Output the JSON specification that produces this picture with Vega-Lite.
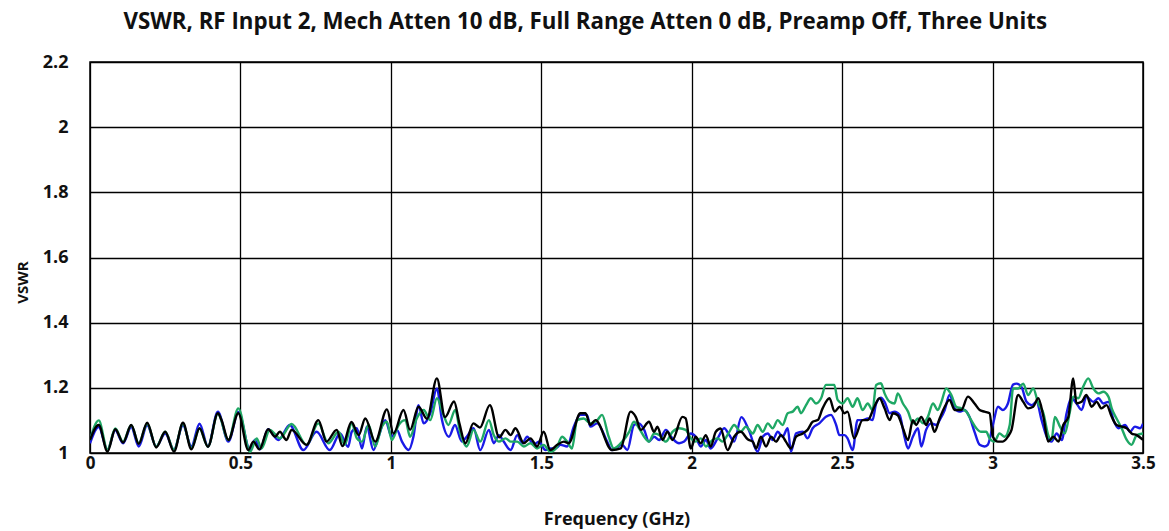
{
"$schema": "https://vega.github.io/schema/vega-lite/v6.json",
"width": 1053, "height": 391,
"autosize": {"type": "none"},
"padding": {"left": 90, "top": 62, "right": 26, "bottom": 78},
"background": "white",
"title": {"text": "VSWR, RF Input 2, Mech Atten 10 dB, Full Range Atten 0 dB, Preamp Off, Three Units", "anchor": "middle", "frame": "bounds", "font": "Open Sans", "fontSize": 22.3, "fontWeight": "bold", "color": "#111", "offset": 20},
"config": {"view": {"stroke": "#000", "strokeWidth": 1.5}},
"datasets": {"d": [
{"u":"Unit 1","f":0.000,"v":1.030},{"u":"Unit 1","f":0.029,"v":1.080},{"u":"Unit 1","f":0.058,"v":1.010},{"u":"Unit 1","f":0.084,"v":1.070},{"u":"Unit 1","f":0.110,"v":1.030},{"u":"Unit 1","f":0.137,"v":1.080},{"u":"Unit 1","f":0.162,"v":1.020},{"u":"Unit 1","f":0.190,"v":1.085},{"u":"Unit 1","f":0.220,"v":1.020},{"u":"Unit 1","f":0.250,"v":1.060},{"u":"Unit 1","f":0.279,"v":1.010},{"u":"Unit 1","f":0.309,"v":1.085},{"u":"Unit 1","f":0.337,"v":1.020},{"u":"Unit 1","f":0.364,"v":1.090},{"u":"Unit 1","f":0.392,"v":1.020},{"u":"Unit 1","f":0.425,"v":1.127},{"u":"Unit 1","f":0.460,"v":1.035},{"u":"Unit 1","f":0.493,"v":1.126},{"u":"Unit 1","f":0.532,"v":1.009},{"u":"Unit 1","f":0.548,"v":1.040},{"u":"Unit 1","f":0.565,"v":1.011},{"u":"Unit 1","f":0.592,"v":1.073},{"u":"Unit 1","f":0.626,"v":1.040},{"u":"Unit 1","f":0.664,"v":1.086},{"u":"Unit 1","f":0.709,"v":1.009},{"u":"Unit 1","f":0.753,"v":1.065},{"u":"Unit 1","f":0.797,"v":1.009},{"u":"Unit 1","f":0.831,"v":1.060},{"u":"Unit 1","f":0.858,"v":1.019},{"u":"Unit 1","f":0.870,"v":1.065},{"u":"Unit 1","f":0.887,"v":1.076},{"u":"Unit 1","f":0.904,"v":1.014},{"u":"Unit 1","f":0.920,"v":1.081},{"u":"Unit 1","f":0.942,"v":1.009},{"u":"Unit 1","f":0.959,"v":1.050},{"u":"Unit 1","f":0.981,"v":1.101},{"u":"Unit 1","f":1.003,"v":1.050},{"u":"Unit 1","f":1.020,"v":1.071},{"u":"Unit 1","f":1.037,"v":1.035},{"u":"Unit 1","f":1.059,"v":1.009},{"u":"Unit 1","f":1.075,"v":1.050},{"u":"Unit 1","f":1.092,"v":1.147},{"u":"Unit 1","f":1.109,"v":1.091},{"u":"Unit 1","f":1.131,"v":1.122},{"u":"Unit 1","f":1.153,"v":1.198},{"u":"Unit 1","f":1.170,"v":1.101},{"u":"Unit 1","f":1.193,"v":1.050},{"u":"Unit 1","f":1.213,"v":1.086},{"u":"Unit 1","f":1.236,"v":1.035},{"u":"Unit 1","f":1.252,"v":1.050},{"u":"Unit 1","f":1.275,"v":1.076},{"u":"Unit 1","f":1.297,"v":1.009},{"u":"Unit 1","f":1.326,"v":1.071},{"u":"Unit 1","f":1.342,"v":1.030},{"u":"Unit 1","f":1.359,"v":1.055},{"u":"Unit 1","f":1.375,"v":1.035},{"u":"Unit 1","f":1.398,"v":1.009},{"u":"Unit 1","f":1.420,"v":1.055},{"u":"Unit 1","f":1.437,"v":1.030},{"u":"Unit 1","f":1.453,"v":1.050},{"u":"Unit 1","f":1.475,"v":1.025},{"u":"Unit 1","f":1.492,"v":1.035},{"u":"Unit 1","f":1.514,"v":1.009},{"u":"Unit 1","f":1.530,"v":1.014},{"u":"Unit 1","f":1.547,"v":1.014},{"u":"Unit 1","f":1.564,"v":1.025},{"u":"Unit 1","f":1.586,"v":1.020},{"u":"Unit 1","f":1.608,"v":1.081},{"u":"Unit 1","f":1.630,"v":1.117},{"u":"Unit 1","f":1.652,"v":1.117},{"u":"Unit 1","f":1.663,"v":1.081},{"u":"Unit 1","f":1.686,"v":1.091},{"u":"Unit 1","f":1.719,"v":1.035},{"u":"Unit 1","f":1.735,"v":1.009},{"u":"Unit 1","f":1.769,"v":1.025},{"u":"Unit 1","f":1.786,"v":1.009},{"u":"Unit 1","f":1.808,"v":1.086},{"u":"Unit 1","f":1.825,"v":1.091},{"u":"Unit 1","f":1.842,"v":1.071},{"u":"Unit 1","f":1.858,"v":1.035},{"u":"Unit 1","f":1.875,"v":1.050},{"u":"Unit 1","f":1.892,"v":1.040},{"u":"Unit 1","f":1.914,"v":1.071},{"u":"Unit 1","f":1.936,"v":1.045},{"u":"Unit 1","f":1.958,"v":1.030},{"u":"Unit 1","f":1.975,"v":1.035},{"u":"Unit 1","f":1.997,"v":1.060},{"u":"Unit 1","f":2.013,"v":1.050},{"u":"Unit 1","f":2.030,"v":1.020},{"u":"Unit 1","f":2.047,"v":1.040},{"u":"Unit 1","f":2.063,"v":1.014},{"u":"Unit 1","f":2.086,"v":1.045},{"u":"Unit 1","f":2.108,"v":1.076},{"u":"Unit 1","f":2.125,"v":1.055},{"u":"Unit 1","f":2.141,"v":1.035},{"u":"Unit 1","f":2.165,"v":1.110},{"u":"Unit 1","f":2.190,"v":1.070},{"u":"Unit 1","f":2.219,"v":1.004},{"u":"Unit 1","f":2.236,"v":1.050},{"u":"Unit 1","f":2.253,"v":1.060},{"u":"Unit 1","f":2.269,"v":1.040},{"u":"Unit 1","f":2.286,"v":1.065},{"u":"Unit 1","f":2.302,"v":1.050},{"u":"Unit 1","f":2.319,"v":1.076},{"u":"Unit 1","f":2.330,"v":1.004},{"u":"Unit 1","f":2.347,"v":1.060},{"u":"Unit 1","f":2.369,"v":1.065},{"u":"Unit 1","f":2.385,"v":1.045},{"u":"Unit 1","f":2.402,"v":1.076},{"u":"Unit 1","f":2.424,"v":1.091},{"u":"Unit 1","f":2.446,"v":1.111},{"u":"Unit 1","f":2.463,"v":1.117},{"u":"Unit 1","f":2.480,"v":1.086},{"u":"Unit 1","f":2.491,"v":1.055},{"u":"Unit 1","f":2.508,"v":1.055},{"u":"Unit 1","f":2.518,"v":1.045},{"u":"Unit 1","f":2.535,"v":1.009},{"u":"Unit 1","f":2.551,"v":1.101},{"u":"Unit 1","f":2.568,"v":1.101},{"u":"Unit 1","f":2.585,"v":1.106},{"u":"Unit 1","f":2.601,"v":1.101},{"u":"Unit 1","f":2.613,"v":1.152},{"u":"Unit 1","f":2.629,"v":1.170},{"u":"Unit 1","f":2.641,"v":1.157},{"u":"Unit 1","f":2.658,"v":1.122},{"u":"Unit 1","f":2.674,"v":1.127},{"u":"Unit 1","f":2.691,"v":1.117},{"u":"Unit 1","f":2.707,"v":1.050},{"u":"Unit 1","f":2.719,"v":1.014},{"u":"Unit 1","f":2.735,"v":1.050},{"u":"Unit 1","f":2.752,"v":1.076},{"u":"Unit 1","f":2.763,"v":1.020},{"u":"Unit 1","f":2.779,"v":1.071},{"u":"Unit 1","f":2.796,"v":1.091},{"u":"Unit 1","f":2.813,"v":1.086},{"u":"Unit 1","f":2.824,"v":1.101},{"u":"Unit 1","f":2.841,"v":1.132},{"u":"Unit 1","f":2.857,"v":1.178},{"u":"Unit 1","f":2.874,"v":1.137},{"u":"Unit 1","f":2.890,"v":1.127},{"u":"Unit 1","f":2.907,"v":1.132},{"u":"Unit 1","f":2.923,"v":1.111},{"u":"Unit 1","f":2.940,"v":1.065},{"u":"Unit 1","f":2.957,"v":1.025},{"u":"Unit 1","f":2.973,"v":1.020},{"u":"Unit 1","f":2.984,"v":1.025},{"u":"Unit 1","f":3.001,"v":1.086},{"u":"Unit 1","f":3.018,"v":1.142},{"u":"Unit 1","f":3.034,"v":1.132},{"u":"Unit 1","f":3.051,"v":1.152},{"u":"Unit 1","f":3.068,"v":1.210},{"u":"Unit 1","f":3.080,"v":1.213},{"u":"Unit 1","f":3.096,"v":1.203},{"u":"Unit 1","f":3.113,"v":1.157},{"u":"Unit 1","f":3.130,"v":1.147},{"u":"Unit 1","f":3.146,"v":1.157},{"u":"Unit 1","f":3.163,"v":1.101},{"u":"Unit 1","f":3.180,"v":1.050},{"u":"Unit 1","f":3.196,"v":1.035},{"u":"Unit 1","f":3.213,"v":1.060},{"u":"Unit 1","f":3.230,"v":1.040},{"u":"Unit 1","f":3.246,"v":1.122},{"u":"Unit 1","f":3.263,"v":1.168},{"u":"Unit 1","f":3.279,"v":1.152},{"u":"Unit 1","f":3.296,"v":1.132},{"u":"Unit 1","f":3.312,"v":1.173},{"u":"Unit 1","f":3.335,"v":1.157},{"u":"Unit 1","f":3.352,"v":1.168},{"u":"Unit 1","f":3.368,"v":1.152},{"u":"Unit 1","f":3.385,"v":1.157},{"u":"Unit 1","f":3.402,"v":1.101},{"u":"Unit 1","f":3.418,"v":1.076},{"u":"Unit 1","f":3.440,"v":1.086},{"u":"Unit 1","f":3.457,"v":1.065},{"u":"Unit 1","f":3.473,"v":1.081},{"u":"Unit 1","f":3.490,"v":1.076},{"u":"Unit 1","f":3.500,"v":1.090},
{"u":"Unit 2","f":0.000,"v":1.040},{"u":"Unit 2","f":0.029,"v":1.100},{"u":"Unit 2","f":0.058,"v":1.010},{"u":"Unit 2","f":0.084,"v":1.075},{"u":"Unit 2","f":0.110,"v":1.035},{"u":"Unit 2","f":0.137,"v":1.085},{"u":"Unit 2","f":0.162,"v":1.030},{"u":"Unit 2","f":0.190,"v":1.090},{"u":"Unit 2","f":0.220,"v":1.020},{"u":"Unit 2","f":0.250,"v":1.065},{"u":"Unit 2","f":0.279,"v":1.010},{"u":"Unit 2","f":0.309,"v":1.090},{"u":"Unit 2","f":0.337,"v":1.015},{"u":"Unit 2","f":0.364,"v":1.075},{"u":"Unit 2","f":0.392,"v":1.020},{"u":"Unit 2","f":0.425,"v":1.120},{"u":"Unit 2","f":0.460,"v":1.040},{"u":"Unit 2","f":0.493,"v":1.137},{"u":"Unit 2","f":0.532,"v":1.004},{"u":"Unit 2","f":0.554,"v":1.045},{"u":"Unit 2","f":0.570,"v":1.014},{"u":"Unit 2","f":0.598,"v":1.071},{"u":"Unit 2","f":0.631,"v":1.045},{"u":"Unit 2","f":0.670,"v":1.089},{"u":"Unit 2","f":0.720,"v":1.025},{"u":"Unit 2","f":0.759,"v":1.091},{"u":"Unit 2","f":0.792,"v":1.030},{"u":"Unit 2","f":0.826,"v":1.065},{"u":"Unit 2","f":0.847,"v":1.025},{"u":"Unit 2","f":0.870,"v":1.091},{"u":"Unit 2","f":0.887,"v":1.045},{"u":"Unit 2","f":0.904,"v":1.035},{"u":"Unit 2","f":0.926,"v":1.086},{"u":"Unit 2","f":0.948,"v":1.020},{"u":"Unit 2","f":0.970,"v":1.081},{"u":"Unit 2","f":0.987,"v":1.096},{"u":"Unit 2","f":1.003,"v":1.040},{"u":"Unit 2","f":1.026,"v":1.086},{"u":"Unit 2","f":1.048,"v":1.101},{"u":"Unit 2","f":1.064,"v":1.050},{"u":"Unit 2","f":1.086,"v":1.106},{"u":"Unit 2","f":1.109,"v":1.132},{"u":"Unit 2","f":1.131,"v":1.101},{"u":"Unit 2","f":1.153,"v":1.168},{"u":"Unit 2","f":1.175,"v":1.117},{"u":"Unit 2","f":1.191,"v":1.086},{"u":"Unit 2","f":1.214,"v":1.132},{"u":"Unit 2","f":1.230,"v":1.065},{"u":"Unit 2","f":1.252,"v":1.020},{"u":"Unit 2","f":1.275,"v":1.071},{"u":"Unit 2","f":1.297,"v":1.035},{"u":"Unit 2","f":1.326,"v":1.101},{"u":"Unit 2","f":1.342,"v":1.055},{"u":"Unit 2","f":1.359,"v":1.035},{"u":"Unit 2","f":1.381,"v":1.045},{"u":"Unit 2","f":1.398,"v":1.035},{"u":"Unit 2","f":1.420,"v":1.035},{"u":"Unit 2","f":1.442,"v":1.020},{"u":"Unit 2","f":1.464,"v":1.030},{"u":"Unit 2","f":1.486,"v":1.014},{"u":"Unit 2","f":1.508,"v":1.025},{"u":"Unit 2","f":1.530,"v":1.004},{"u":"Unit 2","f":1.553,"v":1.020},{"u":"Unit 2","f":1.569,"v":1.050},{"u":"Unit 2","f":1.586,"v":1.035},{"u":"Unit 2","f":1.602,"v":1.014},{"u":"Unit 2","f":1.619,"v":1.101},{"u":"Unit 2","f":1.641,"v":1.106},{"u":"Unit 2","f":1.663,"v":1.091},{"u":"Unit 2","f":1.686,"v":1.101},{"u":"Unit 2","f":1.702,"v":1.117},{"u":"Unit 2","f":1.724,"v":1.050},{"u":"Unit 2","f":1.741,"v":1.014},{"u":"Unit 2","f":1.769,"v":1.035},{"u":"Unit 2","f":1.792,"v":1.065},{"u":"Unit 2","f":1.808,"v":1.096},{"u":"Unit 2","f":1.825,"v":1.076},{"u":"Unit 2","f":1.842,"v":1.050},{"u":"Unit 2","f":1.858,"v":1.035},{"u":"Unit 2","f":1.875,"v":1.060},{"u":"Unit 2","f":1.892,"v":1.055},{"u":"Unit 2","f":1.914,"v":1.035},{"u":"Unit 2","f":1.936,"v":1.065},{"u":"Unit 2","f":1.958,"v":1.076},{"u":"Unit 2","f":1.980,"v":1.071},{"u":"Unit 2","f":1.997,"v":1.045},{"u":"Unit 2","f":2.013,"v":1.035},{"u":"Unit 2","f":2.030,"v":1.045},{"u":"Unit 2","f":2.047,"v":1.020},{"u":"Unit 2","f":2.069,"v":1.040},{"u":"Unit 2","f":2.086,"v":1.045},{"u":"Unit 2","f":2.102,"v":1.035},{"u":"Unit 2","f":2.125,"v":1.065},{"u":"Unit 2","f":2.141,"v":1.086},{"u":"Unit 2","f":2.163,"v":1.065},{"u":"Unit 2","f":2.180,"v":1.081},{"u":"Unit 2","f":2.203,"v":1.060},{"u":"Unit 2","f":2.219,"v":1.086},{"u":"Unit 2","f":2.236,"v":1.065},{"u":"Unit 2","f":2.253,"v":1.091},{"u":"Unit 2","f":2.269,"v":1.076},{"u":"Unit 2","f":2.286,"v":1.101},{"u":"Unit 2","f":2.302,"v":1.086},{"u":"Unit 2","f":2.319,"v":1.122},{"u":"Unit 2","f":2.336,"v":1.127},{"u":"Unit 2","f":2.352,"v":1.142},{"u":"Unit 2","f":2.363,"v":1.122},{"u":"Unit 2","f":2.380,"v":1.147},{"u":"Unit 2","f":2.396,"v":1.168},{"u":"Unit 2","f":2.413,"v":1.152},{"u":"Unit 2","f":2.430,"v":1.168},{"u":"Unit 2","f":2.446,"v":1.209},{"u":"Unit 2","f":2.474,"v":1.209},{"u":"Unit 2","f":2.485,"v":1.163},{"u":"Unit 2","f":2.502,"v":1.152},{"u":"Unit 2","f":2.518,"v":1.168},{"u":"Unit 2","f":2.535,"v":1.142},{"u":"Unit 2","f":2.551,"v":1.168},{"u":"Unit 2","f":2.568,"v":1.132},{"u":"Unit 2","f":2.585,"v":1.152},{"u":"Unit 2","f":2.601,"v":1.132},{"u":"Unit 2","f":2.613,"v":1.209},{"u":"Unit 2","f":2.629,"v":1.214},{"u":"Unit 2","f":2.641,"v":1.183},{"u":"Unit 2","f":2.658,"v":1.157},{"u":"Unit 2","f":2.674,"v":1.152},{"u":"Unit 2","f":2.685,"v":1.183},{"u":"Unit 2","f":2.702,"v":1.152},{"u":"Unit 2","f":2.719,"v":1.127},{"u":"Unit 2","f":2.735,"v":1.091},{"u":"Unit 2","f":2.752,"v":1.106},{"u":"Unit 2","f":2.769,"v":1.091},{"u":"Unit 2","f":2.785,"v":1.111},{"u":"Unit 2","f":2.802,"v":1.152},{"u":"Unit 2","f":2.818,"v":1.132},{"u":"Unit 2","f":2.830,"v":1.157},{"u":"Unit 2","f":2.846,"v":1.198},{"u":"Unit 2","f":2.863,"v":1.178},{"u":"Unit 2","f":2.879,"v":1.142},{"u":"Unit 2","f":2.896,"v":1.137},{"u":"Unit 2","f":2.913,"v":1.127},{"u":"Unit 2","f":2.929,"v":1.101},{"u":"Unit 2","f":2.946,"v":1.076},{"u":"Unit 2","f":2.962,"v":1.065},{"u":"Unit 2","f":2.979,"v":1.065},{"u":"Unit 2","f":2.990,"v":1.045},{"u":"Unit 2","f":3.006,"v":1.035},{"u":"Unit 2","f":3.023,"v":1.060},{"u":"Unit 2","f":3.040,"v":1.050},{"u":"Unit 2","f":3.057,"v":1.086},{"u":"Unit 2","f":3.068,"v":1.198},{"u":"Unit 2","f":3.085,"v":1.198},{"u":"Unit 2","f":3.102,"v":1.213},{"u":"Unit 2","f":3.118,"v":1.178},{"u":"Unit 2","f":3.135,"v":1.198},{"u":"Unit 2","f":3.152,"v":1.152},{"u":"Unit 2","f":3.169,"v":1.122},{"u":"Unit 2","f":3.185,"v":1.055},{"u":"Unit 2","f":3.196,"v":1.040},{"u":"Unit 2","f":3.207,"v":1.111},{"u":"Unit 2","f":3.224,"v":1.081},{"u":"Unit 2","f":3.240,"v":1.060},{"u":"Unit 2","f":3.257,"v":1.127},{"u":"Unit 2","f":3.268,"v":1.173},{"u":"Unit 2","f":3.285,"v":1.168},{"u":"Unit 2","f":3.301,"v":1.203},{"u":"Unit 2","f":3.318,"v":1.229},{"u":"Unit 2","f":3.335,"v":1.198},{"u":"Unit 2","f":3.352,"v":1.183},{"u":"Unit 2","f":3.368,"v":1.188},{"u":"Unit 2","f":3.385,"v":1.173},{"u":"Unit 2","f":3.396,"v":1.137},{"u":"Unit 2","f":3.412,"v":1.106},{"u":"Unit 2","f":3.429,"v":1.076},{"u":"Unit 2","f":3.446,"v":1.040},{"u":"Unit 2","f":3.462,"v":1.025},{"u":"Unit 2","f":3.479,"v":1.055},{"u":"Unit 2","f":3.500,"v":1.060},
{"u":"Unit 3","f":0.000,"v":1.040},{"u":"Unit 3","f":0.029,"v":1.086},{"u":"Unit 3","f":0.058,"v":1.004},{"u":"Unit 3","f":0.084,"v":1.073},{"u":"Unit 3","f":0.110,"v":1.032},{"u":"Unit 3","f":0.137,"v":1.086},{"u":"Unit 3","f":0.162,"v":1.028},{"u":"Unit 3","f":0.190,"v":1.093},{"u":"Unit 3","f":0.220,"v":1.017},{"u":"Unit 3","f":0.250,"v":1.065},{"u":"Unit 3","f":0.279,"v":1.004},{"u":"Unit 3","f":0.309,"v":1.093},{"u":"Unit 3","f":0.337,"v":1.011},{"u":"Unit 3","f":0.364,"v":1.076},{"u":"Unit 3","f":0.392,"v":1.019},{"u":"Unit 3","f":0.425,"v":1.122},{"u":"Unit 3","f":0.437,"v":1.101},{"u":"Unit 3","f":0.460,"v":1.040},{"u":"Unit 3","f":0.493,"v":1.122},{"u":"Unit 3","f":0.526,"v":1.009},{"u":"Unit 3","f":0.543,"v":1.035},{"u":"Unit 3","f":0.563,"v":1.011},{"u":"Unit 3","f":0.592,"v":1.073},{"u":"Unit 3","f":0.615,"v":1.050},{"u":"Unit 3","f":0.631,"v":1.065},{"u":"Unit 3","f":0.653,"v":1.040},{"u":"Unit 3","f":0.670,"v":1.071},{"u":"Unit 3","f":0.720,"v":1.025},{"u":"Unit 3","f":0.759,"v":1.101},{"u":"Unit 3","f":0.786,"v":1.035},{"u":"Unit 3","f":0.820,"v":1.071},{"u":"Unit 3","f":0.839,"v":1.021},{"u":"Unit 3","f":0.869,"v":1.095},{"u":"Unit 3","f":0.893,"v":1.055},{"u":"Unit 3","f":0.915,"v":1.106},{"u":"Unit 3","f":0.948,"v":1.035},{"u":"Unit 3","f":0.987,"v":1.134},{"u":"Unit 3","f":1.009,"v":1.060},{"u":"Unit 3","f":1.042,"v":1.132},{"u":"Unit 3","f":1.064,"v":1.071},{"u":"Unit 3","f":1.092,"v":1.142},{"u":"Unit 3","f":1.120,"v":1.105},{"u":"Unit 3","f":1.153,"v":1.229},{"u":"Unit 3","f":1.180,"v":1.110},{"u":"Unit 3","f":1.210,"v":1.158},{"u":"Unit 3","f":1.228,"v":1.090},{"u":"Unit 3","f":1.248,"v":1.030},{"u":"Unit 3","f":1.274,"v":1.091},{"u":"Unit 3","f":1.296,"v":1.078},{"u":"Unit 3","f":1.329,"v":1.147},{"u":"Unit 3","f":1.360,"v":1.048},{"u":"Unit 3","f":1.381,"v":1.071},{"u":"Unit 3","f":1.398,"v":1.055},{"u":"Unit 3","f":1.414,"v":1.076},{"u":"Unit 3","f":1.442,"v":1.030},{"u":"Unit 3","f":1.464,"v":1.045},{"u":"Unit 3","f":1.486,"v":1.020},{"u":"Unit 3","f":1.508,"v":1.065},{"u":"Unit 3","f":1.530,"v":1.009},{"u":"Unit 3","f":1.553,"v":1.025},{"u":"Unit 3","f":1.575,"v":1.035},{"u":"Unit 3","f":1.591,"v":1.030},{"u":"Unit 3","f":1.630,"v":1.122},{"u":"Unit 3","f":1.647,"v":1.122},{"u":"Unit 3","f":1.663,"v":1.086},{"u":"Unit 3","f":1.680,"v":1.101},{"u":"Unit 3","f":1.735,"v":1.009},{"u":"Unit 3","f":1.764,"v":1.014},{"u":"Unit 3","f":1.797,"v":1.127},{"u":"Unit 3","f":1.814,"v":1.111},{"u":"Unit 3","f":1.831,"v":1.071},{"u":"Unit 3","f":1.858,"v":1.096},{"u":"Unit 3","f":1.875,"v":1.065},{"u":"Unit 3","f":1.886,"v":1.081},{"u":"Unit 3","f":1.903,"v":1.040},{"u":"Unit 3","f":1.919,"v":1.065},{"u":"Unit 3","f":1.936,"v":1.040},{"u":"Unit 3","f":1.969,"v":1.111},{"u":"Unit 3","f":1.980,"v":1.106},{"u":"Unit 3","f":1.997,"v":1.014},{"u":"Unit 3","f":2.013,"v":1.050},{"u":"Unit 3","f":2.030,"v":1.030},{"u":"Unit 3","f":2.047,"v":1.055},{"u":"Unit 3","f":2.063,"v":1.020},{"u":"Unit 3","f":2.080,"v":1.065},{"u":"Unit 3","f":2.096,"v":1.075},{"u":"Unit 3","f":2.119,"v":1.009},{"u":"Unit 3","f":2.141,"v":1.050},{"u":"Unit 3","f":2.163,"v":1.065},{"u":"Unit 3","f":2.186,"v":1.042},{"u":"Unit 3","f":2.203,"v":1.035},{"u":"Unit 3","f":2.214,"v":1.014},{"u":"Unit 3","f":2.230,"v":1.050},{"u":"Unit 3","f":2.247,"v":1.020},{"u":"Unit 3","f":2.264,"v":1.050},{"u":"Unit 3","f":2.280,"v":1.035},{"u":"Unit 3","f":2.297,"v":1.055},{"u":"Unit 3","f":2.313,"v":1.035},{"u":"Unit 3","f":2.330,"v":1.014},{"u":"Unit 3","f":2.347,"v":1.050},{"u":"Unit 3","f":2.369,"v":1.060},{"u":"Unit 3","f":2.385,"v":1.071},{"u":"Unit 3","f":2.402,"v":1.096},{"u":"Unit 3","f":2.419,"v":1.101},{"u":"Unit 3","f":2.435,"v":1.137},{"u":"Unit 3","f":2.458,"v":1.168},{"u":"Unit 3","f":2.475,"v":1.127},{"u":"Unit 3","f":2.492,"v":1.142},{"u":"Unit 3","f":2.508,"v":1.122},{"u":"Unit 3","f":2.518,"v":1.127},{"u":"Unit 3","f":2.540,"v":1.045},{"u":"Unit 3","f":2.568,"v":1.101},{"u":"Unit 3","f":2.585,"v":1.101},{"u":"Unit 3","f":2.607,"v":1.142},{"u":"Unit 3","f":2.624,"v":1.168},{"u":"Unit 3","f":2.641,"v":1.137},{"u":"Unit 3","f":2.658,"v":1.101},{"u":"Unit 3","f":2.669,"v":1.122},{"u":"Unit 3","f":2.685,"v":1.116},{"u":"Unit 3","f":2.702,"v":1.076},{"u":"Unit 3","f":2.719,"v":1.040},{"u":"Unit 3","f":2.735,"v":1.101},{"u":"Unit 3","f":2.746,"v":1.086},{"u":"Unit 3","f":2.763,"v":1.111},{"u":"Unit 3","f":2.779,"v":1.086},{"u":"Unit 3","f":2.791,"v":1.106},{"u":"Unit 3","f":2.807,"v":1.065},{"u":"Unit 3","f":2.824,"v":1.106},{"u":"Unit 3","f":2.841,"v":1.142},{"u":"Unit 3","f":2.857,"v":1.163},{"u":"Unit 3","f":2.874,"v":1.132},{"u":"Unit 3","f":2.896,"v":1.132},{"u":"Unit 3","f":2.918,"v":1.173},{"u":"Unit 3","f":2.940,"v":1.152},{"u":"Unit 3","f":2.957,"v":1.132},{"u":"Unit 3","f":2.973,"v":1.127},{"u":"Unit 3","f":2.990,"v":1.122},{"u":"Unit 3","f":3.001,"v":1.050},{"u":"Unit 3","f":3.018,"v":1.035},{"u":"Unit 3","f":3.034,"v":1.035},{"u":"Unit 3","f":3.051,"v":1.050},{"u":"Unit 3","f":3.063,"v":1.071},{"u":"Unit 3","f":3.085,"v":1.178},{"u":"Unit 3","f":3.102,"v":1.157},{"u":"Unit 3","f":3.118,"v":1.137},{"u":"Unit 3","f":3.135,"v":1.142},{"u":"Unit 3","f":3.152,"v":1.168},{"u":"Unit 3","f":3.169,"v":1.111},{"u":"Unit 3","f":3.185,"v":1.035},{"u":"Unit 3","f":3.202,"v":1.050},{"u":"Unit 3","f":3.219,"v":1.035},{"u":"Unit 3","f":3.235,"v":1.086},{"u":"Unit 3","f":3.252,"v":1.111},{"u":"Unit 3","f":3.268,"v":1.229},{"u":"Unit 3","f":3.279,"v":1.152},{"u":"Unit 3","f":3.296,"v":1.157},{"u":"Unit 3","f":3.312,"v":1.178},{"u":"Unit 3","f":3.329,"v":1.142},{"u":"Unit 3","f":3.346,"v":1.157},{"u":"Unit 3","f":3.362,"v":1.137},{"u":"Unit 3","f":3.379,"v":1.147},{"u":"Unit 3","f":3.396,"v":1.111},{"u":"Unit 3","f":3.412,"v":1.086},{"u":"Unit 3","f":3.429,"v":1.081},{"u":"Unit 3","f":3.446,"v":1.076},{"u":"Unit 3","f":3.462,"v":1.060},{"u":"Unit 3","f":3.479,"v":1.055},{"u":"Unit 3","f":3.500,"v":1.040}
]},
"data": {"name": "d"},
"mark": {"type": "line", "strokeWidth": 2.4, "interpolate": "monotone", "clip": true},
"encoding": {
  "x": {"field": "f", "type": "quantitative", "title": "Frequency (GHz)",
    "scale": {"domain": [0, 3.5], "nice": false, "zero": false},
    "axis": {"values": [0, 0.5, 1, 1.5, 2, 2.5, 3, 3.5], "format": "~g", "grid": true, "gridColor": "#000", "gridWidth": 1.3, "gridOpacity": 1, "domain": false, "ticks": false, "labelFont": "Open Sans", "labelFontSize": 17, "labelFontWeight": "bold", "labelColor": "#111", "labelPadding": 2, "labelFlush": false, "titleFont": "Open Sans", "titleFontSize": 18, "titleFontWeight": "bold", "titleColor": "#111", "titlePadding": 39}},
  "y": {"field": "v", "type": "quantitative", "title": "VSWR",
    "scale": {"domain": [1, 2.2], "nice": false, "zero": false},
    "axis": {"values": [1, 1.2, 1.4, 1.6, 1.8, 2, 2.2], "format": "~g", "grid": true, "gridColor": "#000", "gridWidth": 1.3, "gridOpacity": 1, "domain": false, "ticks": false, "labelFont": "Open Sans", "labelFontSize": 18, "labelFontWeight": "bold", "labelColor": "#111", "labelPadding": 22, "labelFlush": false, "titleFont": "Open Sans", "titleFontSize": 15, "titleFontWeight": "bold", "titleColor": "#111", "titlePadding": 12, "titleY": 220}},
  "color": {"field": "u", "type": "nominal", "legend": null,
    "scale": {"domain": ["Unit 1", "Unit 2", "Unit 3"], "range": ["#1a1ae6", "#1fa865", "#000000"]}}
}
}
